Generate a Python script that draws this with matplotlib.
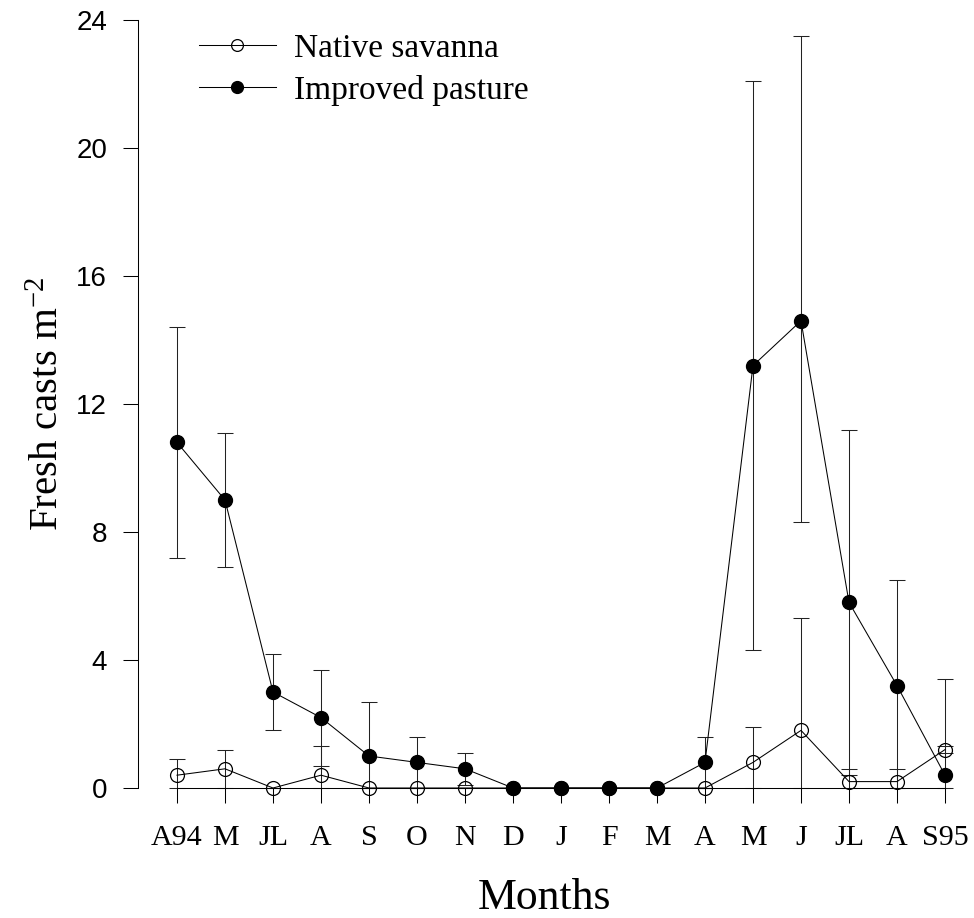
import matplotlib
matplotlib.use("Agg")
import matplotlib.pyplot as plt
import numpy as np

months = ["A94", "M", "JL", "A", "S", "O", "N", "D", "J", "F", "M", "A", "M", "J", "JL", "A", "S95"]
native = [0.4, 0.6, 0.0, 0.4, 0.0, 0.0, 0.0, 0.0, 0.0, 0.0, 0.0, 0.0, 0.8, 1.8, 0.2, 0.2, 1.2]
native_err = [0.5, 0.6, 0.0, 0.9, 0.0, 0.0, 0.0, 0.0, 0.0, 0.0, 0.0, 0.0, 1.1, 3.5, 0.4, 0.4, 0.1]
improved = [10.8, 9.0, 3.0, 2.2, 1.0, 0.8, 0.6, 0.0, 0.0, 0.0, 0.0, 0.8, 13.2, 14.6, 5.8, 3.2, 0.4]
improved_err_up = [3.6, 2.1, 1.2, 1.5, 1.7, 0.8, 0.5, 0.0, 0.0, 0.0, 0.0, 0.8, 8.9, 8.9, 5.4, 3.3, 3.0]
improved_err_down = [3.6, 2.1, 1.2, 1.5, 1.7, 0.8, 0.5, 0.0, 0.0, 0.0, 0.0, 0.8, 8.9, 6.3, 5.4, 3.3, 3.0]

serif = "Liberation Serif"
sans = "Liberation Sans"
plt.rcParams["mathtext.fontset"] = "custom"
plt.rcParams["mathtext.rm"] = serif
plt.rcParams["mathtext.it"] = serif + ":italic"

fig = plt.figure(figsize=(9.74, 9.18), dpi=100)
ax = fig.add_axes([138 / 974, 130 / 918, 831 / 974, 768 / 918])

x = np.arange(len(months))
nat = np.array(native)
imp = np.array(improved)

# error bars stop at zero
bars = [(imp, improved_err_down, improved_err_up), (nat, native_err, native_err)]
for y, lo, hi in bars:
    lo = np.minimum(lo, y)
    ax.errorbar(x, y, yerr=[lo, hi], fmt="none", ecolor="#222222", elinewidth=0.75,
                capsize=5.6, capthick=0.75, clip_on=False, zorder=2)

ax.plot(x, nat, color="black", lw=0.75, marker="o", ms=10, mfc="none", mec="black",
        mew=0.9, clip_on=False, zorder=3, label="Native savanna")
ax.plot(x, imp, color="black", lw=0.75, marker="o", ms=10, mfc="black", mec="black",
        clip_on=False, zorder=3, label="Improved pasture")

ax.set_xlim(-0.8125, 16.5)
ax.set_ylim(0, 24)
ax.set_yticks([0, 4, 8, 12, 16, 20, 24])
ax.set_xticks(x)
ax.set_xticklabels(months, fontfamily=serif, fontsize=21.6)
for lab in ax.get_yticklabels():
    lab.set_fontfamily(sans)
    lab.set_fontsize(20)

ax.spines["top"].set_visible(False)
ax.spines["right"].set_visible(False)
ax.spines["left"].set_bounds(0, 24)
ax.spines["bottom"].set_bounds(0, 16)
ax.spines["left"].set_linewidth(0.75)
ax.spines["bottom"].set_linewidth(0.75)
ax.tick_params(axis="x", direction="out", length=10.8, width=0.75, pad=15.5)
ax.tick_params(axis="y", direction="out", length=10.8, width=0.75, pad=11.5)

ax.set_xlabel("Months", fontfamily=serif, fontsize=31.5)
ax.xaxis.set_label_coords(0.489, -0.117)
ax.set_ylabel("Fresh casts m$^{-2}$", fontfamily=serif, fontsize=29.5)
ax.yaxis.set_label_coords(-0.085, 0.5)

ax.legend(loc="upper left", bbox_to_anchor=(0.0734, 0.983), frameon=False,
          prop={"family": serif, "size": 24}, borderpad=0, borderaxespad=0,
          handlelength=2.3, handletextpad=0.55, labelspacing=0.34, markerscale=0.85)

fig.savefig("out.png", dpi=100)
